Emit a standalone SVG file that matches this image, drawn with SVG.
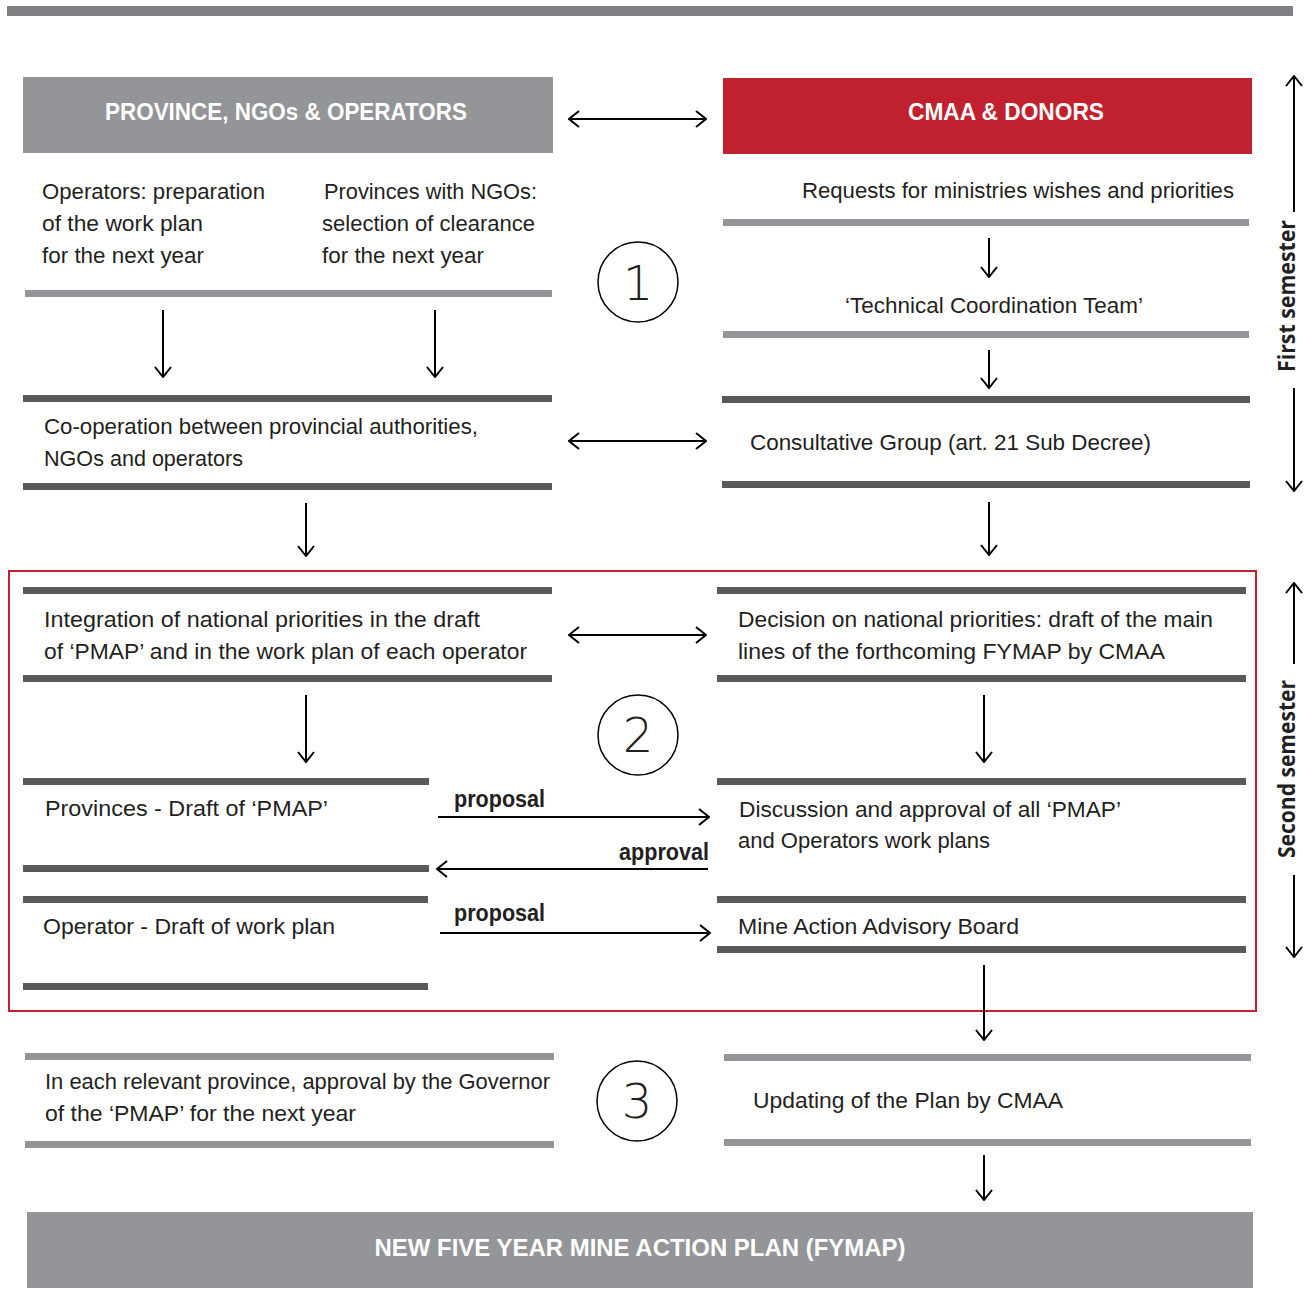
<svg xmlns="http://www.w3.org/2000/svg" width="1309" height="1311" viewBox="0 0 1309 1311">
<defs>
<style>
.t{font-family:"Liberation Sans",Arial,sans-serif;font-size:22.5px;fill:#231F20;}
.h{font-family:"Liberation Sans",Arial,sans-serif;font-size:23px;font-weight:bold;fill:#FFFFFF;}
.lb{font-family:"Liberation Sans",Arial,sans-serif;font-size:23px;font-weight:bold;fill:#231F20;}
.side{font-family:"Open Sans","Liberation Sans",sans-serif;font-size:23px;font-weight:bold;fill:#231F20;}
.num{font-family:"DejaVu Sans","Liberation Sans",sans-serif;font-size:48px;font-weight:300;fill:#231F20;}
.dk{fill:#58595B;}
.lt{fill:#939598;}
.ln{stroke:#000;stroke-width:2;fill:none;marker-end:url(#ah);}
.dbl{stroke:#000;stroke-width:2;fill:none;marker-end:url(#ah);marker-start:url(#ah);}
.circ{fill:none;stroke:#000;stroke-width:1.5;}
</style>
<marker id="ah" viewBox="0 0 12 18" refX="11" refY="9" markerWidth="12" markerHeight="18" markerUnits="userSpaceOnUse" orient="auto-start-reverse">
<path d="M1,1 L11,9 L1,17" fill="none" stroke="#000" stroke-width="2"/>
</marker>
</defs>
<rect x="0" y="0" width="1309" height="1311" fill="#FFFFFF"/>
<rect x="7" y="6" width="1286" height="10" fill="#808184"/>

<g id="header-left">
<rect x="23" y="77" width="530" height="76" class="lt"/>
<text x="286" y="119.5" class="h" text-anchor="middle" textLength="362" lengthAdjust="spacingAndGlyphs">PROVINCE, NGOs &amp; OPERATORS</text>
</g>
<g id="header-right">
<rect x="723" y="78" width="529" height="76" fill="#C1202F"/>
<text x="1006" y="119.5" class="h" text-anchor="middle" textLength="196" lengthAdjust="spacingAndGlyphs">CMAA &amp; DONORS</text>
</g>

<g id="operators-prep">
<text x="42" y="199" class="t" textLength="223" lengthAdjust="spacingAndGlyphs">Operators: preparation</text>
<text x="42" y="231" class="t" textLength="161" lengthAdjust="spacingAndGlyphs">of the work plan</text>
<text x="42" y="263" class="t" textLength="162" lengthAdjust="spacingAndGlyphs">for the next year</text>
</g>
<g id="provinces-ngos">
<text x="324" y="199" class="t" textLength="213" lengthAdjust="spacingAndGlyphs">Provinces with NGOs:</text>
<text x="322" y="231" class="t" textLength="213" lengthAdjust="spacingAndGlyphs">selection of clearance</text>
<text x="322" y="263" class="t" textLength="162" lengthAdjust="spacingAndGlyphs">for the next year</text>
<rect x="25" y="290" width="527" height="7" class="lt"/>
</g>

<g id="requests">
<text x="1234" y="198" class="t" text-anchor="end" textLength="432" lengthAdjust="spacingAndGlyphs">Requests for ministries wishes and priorities</text>
<rect x="723" y="219" width="526" height="7" class="lt"/>
</g>
<g id="tct">
<text x="994" y="313" class="t" text-anchor="middle" textLength="298" lengthAdjust="spacingAndGlyphs">‘Technical Coordination Team’</text>
<rect x="723" y="331" width="526" height="7" class="lt"/>
</g>

<g id="step1">
<circle cx="638" cy="282" r="40" class="circ"/>
<text x="638" y="300" class="num" text-anchor="middle">1</text>
</g>

<g id="cooperation">
<rect x="23" y="395" width="529" height="7" class="dk"/>
<text x="44" y="434" class="t" textLength="434" lengthAdjust="spacingAndGlyphs">Co-operation between provincial authorities,</text>
<text x="44" y="466" class="t" textLength="199" lengthAdjust="spacingAndGlyphs">NGOs and operators</text>
<rect x="23" y="483" width="529" height="7" class="dk"/>
</g>
<g id="consultative">
<rect x="722" y="396" width="528" height="7" class="dk"/>
<text x="750" y="450" class="t" textLength="401" lengthAdjust="spacingAndGlyphs">Consultative Group (art. 21 Sub Decree)</text>
<rect x="722" y="481" width="528" height="7" class="dk"/>
</g>

<rect x="9" y="571" width="1247" height="440" fill="none" stroke="#C1202F" stroke-width="2"/>

<g id="integration">
<rect x="23" y="587" width="529" height="7" class="dk"/>
<text x="44" y="627" class="t" textLength="436" lengthAdjust="spacingAndGlyphs">Integration of national priorities in the draft</text>
<text x="44" y="659" class="t" textLength="483" lengthAdjust="spacingAndGlyphs">of ‘PMAP’ and in the work plan of each operator</text>
<rect x="23" y="675" width="529" height="7" class="dk"/>
</g>
<g id="decision">
<rect x="717" y="587" width="529" height="7" class="dk"/>
<text x="738" y="627" class="t" textLength="475" lengthAdjust="spacingAndGlyphs">Decision on national priorities: draft of the main</text>
<text x="738" y="659" class="t" textLength="427" lengthAdjust="spacingAndGlyphs">lines of the forthcoming FYMAP by CMAA</text>
<rect x="717" y="675" width="529" height="7" class="dk"/>
</g>

<g id="step2">
<circle cx="638" cy="735" r="40" class="circ"/>
<text x="638" y="752" class="num" text-anchor="middle">2</text>
</g>

<g id="provinces-draft">
<rect x="23" y="778" width="406" height="7" class="dk"/>
<text x="45" y="816" class="t" textLength="283" lengthAdjust="spacingAndGlyphs">Provinces - Draft of ‘PMAP’</text>
<rect x="23" y="865" width="406" height="7" class="dk"/>
</g>
<g id="operator-draft">
<rect x="23" y="896" width="405" height="7" class="dk"/>
<text x="43" y="934" class="t" textLength="292" lengthAdjust="spacingAndGlyphs">Operator - Draft of work plan</text>
<rect x="23" y="983" width="405" height="7" class="dk"/>
</g>
<g id="discussion">
<rect x="717" y="778" width="529" height="7" class="dk"/>
<text x="739" y="817" class="t" textLength="382" lengthAdjust="spacingAndGlyphs">Discussion and approval of all ‘PMAP’</text>
<text x="738" y="848" class="t" textLength="252" lengthAdjust="spacingAndGlyphs">and Operators work plans</text>
</g>
<g id="maab">
<rect x="717" y="896" width="529" height="7" class="dk"/>
<text x="738" y="934" class="t" textLength="281" lengthAdjust="spacingAndGlyphs">Mine Action Advisory Board</text>
<rect x="717" y="946" width="529" height="7" class="dk"/>
</g>

<g id="governor">
<rect x="25" y="1053" width="529" height="7" class="lt"/>
<text x="45" y="1089" class="t" textLength="505" lengthAdjust="spacingAndGlyphs">In each relevant province, approval by the Governor</text>
<text x="45" y="1121" class="t" textLength="311" lengthAdjust="spacingAndGlyphs">of the ‘PMAP’ for the next year</text>
<rect x="25" y="1141" width="529" height="7" class="lt"/>
</g>
<g id="step3">
<circle cx="637" cy="1101" r="40" class="circ"/>
<text x="637" y="1118" class="num" text-anchor="middle">3</text>
</g>
<g id="updating">
<rect x="724" y="1054" width="527" height="7" class="lt"/>
<text x="753" y="1108" class="t" textLength="310" lengthAdjust="spacingAndGlyphs">Updating of the Plan by CMAA</text>
<rect x="724" y="1139" width="527" height="7" class="lt"/>
</g>

<g id="fymap">
<rect x="27" y="1212" width="1226" height="76" class="lt"/>
<text x="640" y="1256" class="h" text-anchor="middle" textLength="531" lengthAdjust="spacingAndGlyphs">NEW FIVE YEAR MINE ACTION PLAN (FYMAP)</text>
</g>

<g id="first-semester">
<text transform="translate(1295,296) rotate(-90)" class="side" text-anchor="middle" textLength="152" lengthAdjust="spacingAndGlyphs">First semester</text>
</g>
<g id="second-semester">
<text transform="translate(1295,769) rotate(-90)" class="side" text-anchor="middle" textLength="178" lengthAdjust="spacingAndGlyphs">Second semester</text>
</g>

<g id="connectors">
<line x1="569" y1="119" x2="706" y2="119" class="dbl"/>
<line x1="569" y1="441" x2="706" y2="441" class="dbl"/>
<line x1="569" y1="635" x2="706" y2="635" class="dbl"/>
<line x1="163" y1="310" x2="163" y2="377" class="ln"/>
<line x1="435" y1="310" x2="435" y2="377" class="ln"/>
<line x1="989" y1="238" x2="989" y2="277" class="ln"/>
<line x1="989" y1="350" x2="989" y2="388" class="ln"/>
<line x1="989" y1="502" x2="989" y2="555" class="ln"/>
<line x1="306" y1="503" x2="306" y2="556" class="ln"/>
<line x1="306" y1="695" x2="306" y2="762" class="ln"/>
<line x1="984" y1="695" x2="984" y2="762" class="ln"/>
<line x1="438" y1="817" x2="709" y2="817" class="ln"/>
<text x="454" y="807" class="lb" textLength="91" lengthAdjust="spacingAndGlyphs">proposal</text>
<line x1="708" y1="869" x2="437" y2="869" class="ln"/>
<text x="709" y="860" class="lb" text-anchor="end" textLength="90" lengthAdjust="spacingAndGlyphs">approval</text>
<line x1="440" y1="933" x2="710" y2="933" class="ln"/>
<text x="454" y="921" class="lb" textLength="91" lengthAdjust="spacingAndGlyphs">proposal</text>
<line x1="984" y1="965" x2="984" y2="1040" class="ln"/>
<line x1="984" y1="1155" x2="984" y2="1200" class="ln"/>
<line x1="1294" y1="212" x2="1294" y2="76" class="ln"/>
<line x1="1294" y1="388" x2="1294" y2="491" class="ln"/>
<line x1="1294" y1="664" x2="1294" y2="583" class="ln"/>
<line x1="1294" y1="875" x2="1294" y2="957" class="ln"/>
</g>
</svg>
